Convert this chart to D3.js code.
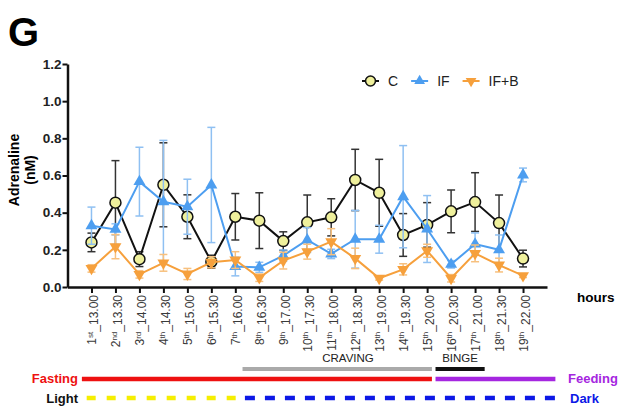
<!DOCTYPE html>
<html>
<head>
<meta charset="utf-8">
<script src="https://cdn.jsdelivr.net/npm/d3@7"></script>
<style>
  body { margin: 0; background: #fff; }
  svg { font-family: "Liberation Sans", Arial, sans-serif; }
</style>
</head>
<body>
<div id="chart"></div>
<script>
// sample time points (ordinal + clock time)
const categories = [
  "1st_13.00", "2nd_13.30", "3rd_14.00", "4th_14.30", "5th_15.00", "6th_15.30",
  "7th_16.00", "8th_16.30", "9th_17.00", "10th_17.30", "11th_18.00", "12th_18.30",
  "13th_19.00", "14th_19.30", "15th_20.00", "16th_20.30", "17th_21.00", "18th_21.30",
  "19th_22.00"
]

// adrenaline means (nM) and SEM
const cMean  = [0.24, 0.454, 0.15, 0.55, 0.378, 0.136, 0.378, 0.357, 0.247, 0.348,
                0.375, 0.576, 0.507, 0.28, 0.334, 0.407, 0.457, 0.344, 0.153]
const cErr   = [0.05, 0.226, 0.04, 0.226, 0.118, 0.035, 0.125, 0.15, 0.05, 0.147,
                0.1, 0.165, 0.18, 0.115, 0.12, 0.115, 0.158, 0.151, 0.045]
const ifMean = [0.33, 0.31, 0.567, 0.459, 0.432, 0.549, 0.11, 0.106, 0.169, 0.253,
                0.178, 0.257, 0.257, 0.486, 0.312, 0.122, 0.231, 0.2, 0.603]
const ifErr  = [0.1, 0.03, 0.185, 0.33, 0.148, 0.31, 0.05, 0.027, 0.03, 0.067,
                0.025, 0.155, 0.075, 0.275, 0.18, 0.02, 0.06, 0.08, 0.037]
const ifbMean = [0.10, 0.217, 0.068, 0.13, 0.07, 0.133, 0.145, 0.05, 0.142, 0.19,
                 0.244, 0.154, 0.047, 0.095, 0.195, 0.047, 0.181, 0.118, 0.061]
const ifbErr  = [0.02, 0.065, 0.02, 0.045, 0.03, 0.03, 0.045, 0.02, 0.045, 0.04,
                 0.07, 0.055, 0.01, 0.03, 0.035, 0.02, 0.045, 0.037, 0.01]

const seriesNames = ["C", "IF", "IF+B"]
const yTicks = [0, 0.2, 0.4, 0.6, 0.8, 1.0, 1.2]

const series = [
  {name: seriesNames[0], mean: cMean, err: cErr, line: "#111", bar: "#333", fill: "#eff09c", shape: "circle"},
  {name: seriesNames[1], mean: ifMean, err: ifErr, line: "#4d9ef0", bar: "#8fc0f2", fill: "#4d9ef0", shape: "up"},
  {name: seriesNames[2], mean: ifbMean, err: ifbErr, line: "#f6a03c", bar: "#f7c07e", fill: "#f6a03c", shape: "down"}
]

const width = 627, height = 407

const svg = d3.select("#chart").append("svg")
  .attr("width", width)
  .attr("height", height)

const x = d3.scalePoint().domain(categories).range([67.5, 547]).padding(1)
const y = d3.scaleLinear().domain([0, 1.2]).range([287, 64])

// panel letter
svg.append("text")
  .attr("x", 8).attr("y", 46)
  .style("font-size", "40px").style("font-weight", "bold")
  .text("G")

// y axis
const yAxis = svg.append("g")
  .attr("transform", "translate(67.5,0)")
  .call(d3.axisLeft(y).tickValues(yTicks).tickFormat(d3.format(".1f")).tickSize(5).tickPadding(1).tickSizeOuter(0))
yAxis.select(".domain").attr("stroke", "#111").attr("stroke-width", 2.5)
yAxis.selectAll(".tick line").attr("stroke", "#111").attr("stroke-width", 2)
yAxis.selectAll(".tick text")
  .style("font-size", "13.5px").style("font-weight", "bold").attr("fill", "#222")

svg.append("text")
  .attr("transform", "translate(19,170) rotate(-90)")
  .attr("text-anchor", "middle")
  .style("font-size", "14px").style("font-weight", "bold")
  .text("Adrenaline")
svg.append("text")
  .attr("transform", "translate(35,170) rotate(-90)")
  .attr("text-anchor", "middle")
  .style("font-size", "14px").style("font-weight", "bold")
  .text("(nM)")

// x axis
const xAxis = svg.append("g")
  .attr("transform", "translate(0,287)")
  .call(d3.axisBottom(x).tickSize(6).tickSizeOuter(0))
xAxis.select(".domain").attr("stroke", "#111").attr("stroke-width", 2.5)
xAxis.selectAll(".tick line").attr("stroke", "#111").attr("stroke-width", 2)
xAxis.selectAll(".tick text").remove()
xAxis.selectAll(".tick").each(function(d) {
  const m = d.match(/^(\d+)([a-z]+)_(.*)$/)
  const t = d3.select(this).append("text")
    .attr("transform", "rotate(-90)")
    .attr("x", -8).attr("y", 0).attr("dy", "0.36em")
    .attr("text-anchor", "end")
    .attr("fill", "#3a3a3a")
    .style("font-size", "12px")
  t.append("tspan").text(m[1])
  t.append("tspan").attr("dy", "-0.45em").style("font-size", "8px").text(m[2])
  t.append("tspan").attr("dy", "0.45em").text("_" + m[3])
})

svg.append("text")
  .attr("x", 577).attr("y", 302)
  .style("font-size", "13.5px").style("font-weight", "bold")
  .text("hours")

// marker helper
function marker(g, s, cx, cy, scale) {
  if (s.shape === "circle") {
    g.append("circle").attr("cx", cx).attr("cy", cy).attr("r", 5.5 * scale)
      .attr("fill", s.fill).attr("stroke", "#111").attr("stroke-width", 1.5)
  } else {
    g.append("path")
      .attr("d", d3.symbol(d3.symbolTriangle, 62 * scale * scale)())
      .attr("transform", `translate(${cx},${cy}) rotate(${s.shape === "down" ? 180 : 0})`)
      .attr("fill", s.fill)
  }
}

const line = d3.line().x((d, i) => x(categories[i])).y(d => y(d))

for (const s of series) {
  const g = svg.append("g")
  // error bars
  s.mean.forEach((m, i) => {
    const cx = x(categories[i])
    const top = y(m + s.err[i]), bot = y(Math.max(0, m - s.err[i]))
    g.append("line").attr("x1", cx).attr("x2", cx).attr("y1", top).attr("y2", bot)
      .attr("stroke", s.bar).attr("stroke-width", 1.5)
    for (const yy of [top, bot]) {
      g.append("line").attr("x1", cx - 4).attr("x2", cx + 4).attr("y1", yy).attr("y2", yy)
        .attr("stroke", s.bar).attr("stroke-width", 1.5)
    }
  })
  g.append("path").attr("d", line(s.mean))
    .attr("fill", "none").attr("stroke", s.line).attr("stroke-width", 2)
  s.mean.forEach((m, i) => marker(g, s, x(categories[i]), y(m), 1))
}

// legend
let lx = 362
const ly = 81
for (const s of series) {
  svg.append("line").attr("x1", lx).attr("x2", lx + 17).attr("y1", ly).attr("y2", ly)
    .attr("stroke", s.line).attr("stroke-width", 2)
  marker(svg, s, lx + 8.5, ly, 0.9)
  const t = svg.append("text").attr("x", lx + 26).attr("y", ly).attr("dy", "0.36em")
    .style("font-size", "14px").attr("fill", "#222").text(s.name)
  lx += 26 + t.node().getComputedTextLength() + 13
}

// protocol phase annotations, positioned on the sample scale
const step = x.step()
const xf = i => x(categories[0]) + i * step

function bar(x0, x1, yy, color, w, dash) {
  svg.append("line").attr("x1", x0).attr("x2", x1).attr("y1", yy).attr("y2", yy)
    .attr("stroke", color).attr("stroke-width", w)
    .attr("stroke-dasharray", dash || null)
}

bar(xf(6.3), xf(14.2), 369, "#aaaaaa", 4)
svg.append("text").attr("x", xf(10.7)).attr("y", 362).attr("text-anchor", "middle")
  .style("font-size", "11.5px").attr("fill", "#222").text("CRAVING")
bar(xf(14.35), xf(16.4), 369, "#111", 4)
svg.append("text").attr("x", (xf(14.35) + xf(16.4)) / 2).attr("y", 362).attr("text-anchor", "middle")
  .style("font-size", "11.5px").attr("fill", "#222").text("BINGE")

bar(xf(-0.4), xf(14.2), 379, "#ee1111", 4.5)
bar(xf(14.35), xf(19.35), 379, "#a526e0", 4.5)
svg.append("text").attr("x", 78).attr("y", 378).attr("dy", "0.36em").attr("text-anchor", "end")
  .style("font-size", "13px").style("font-weight", "bold").attr("fill", "#ee1111").text("Fasting")
svg.append("text").attr("x", 568).attr("y", 378).attr("dy", "0.36em")
  .style("font-size", "13px").style("font-weight", "bold").attr("fill", "#a526e0").text("Feeding")

bar(xf(-0.2), xf(6.05), 398, "#f5ee00", 4.5, "9 11")
bar(xf(6.4), xf(19.4), 398, "#0c18e6", 4.5, "10 10")
svg.append("text").attr("x", 78).attr("y", 398).attr("dy", "0.36em").attr("text-anchor", "end")
  .style("font-size", "13px").style("font-weight", "bold").attr("fill", "#111").text("Light")
svg.append("text").attr("x", 570).attr("y", 398).attr("dy", "0.36em")
  .style("font-size", "13px").style("font-weight", "bold").attr("fill", "#0c18e6").text("Dark")
</script>
</body>
</html>
